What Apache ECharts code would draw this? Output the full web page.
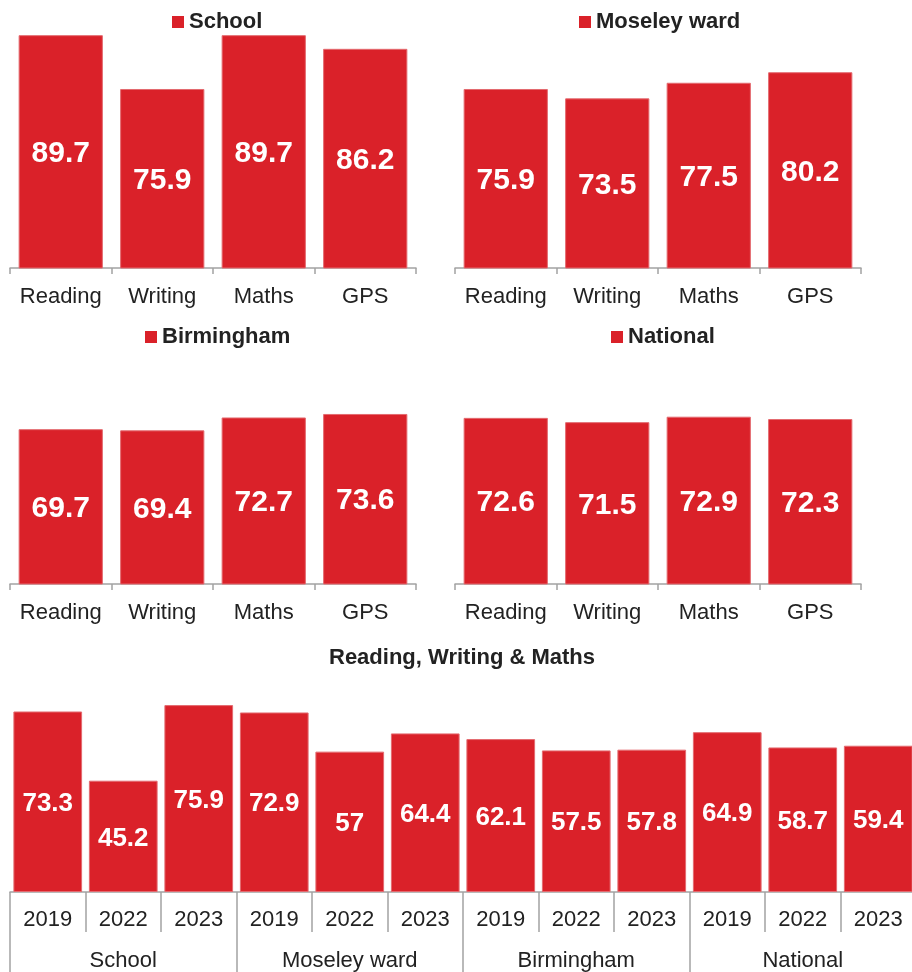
<!DOCTYPE html>
<html>
<head>
<meta charset="utf-8">
<script src="https://cdn.jsdelivr.net/npm/echarts@6/dist/echarts.min.js"></script>
<style>
  html, body { margin: 0; padding: 0; overflow: hidden; background: #fff; }
  #chart { width: 920px; height: 972px; }
</style>
</head>
<body>
<div id="chart"></div>
<script>
const subjects = ['Reading', 'Writing', 'Maths', 'GPS']
const school = [89.7, 75.9, 89.7, 86.2]
const moseley = [75.9, 73.5, 77.5, 80.2]
const birmingham = [69.7, 69.4, 72.7, 73.6]
const national = [72.6, 71.5, 72.9, 72.3]

const years = ['2019', '2022', '2023']
const groups = ['School', 'Moseley ward', 'Birmingham', 'National']
const rwm = [73.3, 45.2, 75.9, 72.9, 57, 64.4, 62.1, 57.5, 57.8, 64.9, 58.7, 59.4]

const FONT = 'Arial'
const RED = '#da2129'
const AXIS = '#a3a3a3'

// year + group keys so category names stay unique
const yearKeys = []
groups.forEach(g => years.forEach(y => yearKeys.push(y + '|' + g)))

const panels = [
  { name: 'School', data: school, left: 10, top: 34, legendLeft: 172, legendTop: 11 },
  { name: 'Moseley ward', data: moseley, left: 455, top: 34, legendLeft: 579, legendTop: 11 },
  { name: 'Birmingham', data: birmingham, left: 10, top: 350, legendLeft: 145, legendTop: 326 },
  { name: 'National', data: national, left: 455, top: 350, legendLeft: 611, legendTop: 326 }
]

const grid = panels.map(p => ({ left: p.left, top: p.top, width: 406, height: 234 }))
grid.push({ left: 10, top: 695, width: 906, height: 198 })

const xAxis = panels.map((p, i) => ({
  type: 'category',
  gridIndex: i,
  data: subjects,
  axisLine: { lineStyle: { color: AXIS, width: 1.5 } },
  axisTick: { show: true, length: 6, lineStyle: { color: AXIS, width: 1.5 } },
  axisLabel: { interval: 0, fontFamily: FONT, fontSize: 22, color: '#222', margin: 18 }
}))
xAxis.push({
  type: 'category',
  gridIndex: 4,
  data: yearKeys,
  axisLine: { lineStyle: { color: AXIS, width: 1.5 } },
  axisTick: { show: true, interval: 0, length: 40, lineStyle: { color: AXIS, width: 1.5 } },
  axisLabel: {
    interval: 0, fontFamily: FONT, fontSize: 22, color: '#222', margin: 17,
    formatter: v => v.split('|')[0]
  }
})
xAxis.push({
  type: 'category',
  gridIndex: 4,
  position: 'bottom',
  data: groups,
  axisLine: { show: false },
  axisTick: { show: true, interval: 0, length: 82, lineStyle: { color: AXIS, width: 1.5 } },
  axisLabel: { interval: 0, fontFamily: FONT, fontSize: 22, color: '#222', margin: 58 }
})

const yAxis = panels.map((p, i) => ({
  type: 'value', gridIndex: i, min: 30, max: 90, show: false
}))
yAxis.push({ type: 'value', gridIndex: 4, min: 0, max: 80, show: false })

const series = panels.map((p, i) => ({
  name: p.name,
  type: 'bar',
  xAxisIndex: i,
  yAxisIndex: i,
  data: p.data,
  barCategoryGap: '17%',
  itemStyle: { color: RED, borderColor: '#e46b70', borderWidth: 1 },
  label: {
    show: true, position: 'inside', color: '#fff', offset: [0, 2],
    fontFamily: FONT, fontWeight: 'bold', fontSize: 30
  },
  silent: true
}))
series.push({
  name: 'Reading, Writing & Maths',
  type: 'bar',
  xAxisIndex: 4,
  yAxisIndex: 4,
  data: rwm,
  barCategoryGap: '9%',
  itemStyle: { color: RED, borderColor: '#e46b70', borderWidth: 1 },
  label: {
    show: true, position: 'inside', color: '#fff', offset: [0, 2],
    fontFamily: FONT, fontWeight: 'bold', fontSize: 26
  },
  silent: true
})

// one legend per small panel, placed above it
const legend = panels.map(p => ({
  data: [p.name],
  left: p.legendLeft,
  top: p.legendTop,
  padding: 0,
  icon: 'rect',
  itemWidth: 12,
  itemHeight: 12,
  selectedMode: false,
  itemStyle: { borderWidth: 0 },
  textStyle: { fontFamily: FONT, fontWeight: 'bold', fontSize: 22, color: '#222' }
}))

const chart = echarts.init(document.getElementById('chart'))
chart.setOption({
  animation: false,
  title: {
    text: 'Reading, Writing & Maths',
    left: 324,
    top: 642,
    textStyle: { fontFamily: FONT, fontWeight: 'bold', fontSize: 22, color: '#222' }
  },
  legend,
  grid,
  xAxis,
  yAxis,
  series
})
</script>
</body>
</html>
